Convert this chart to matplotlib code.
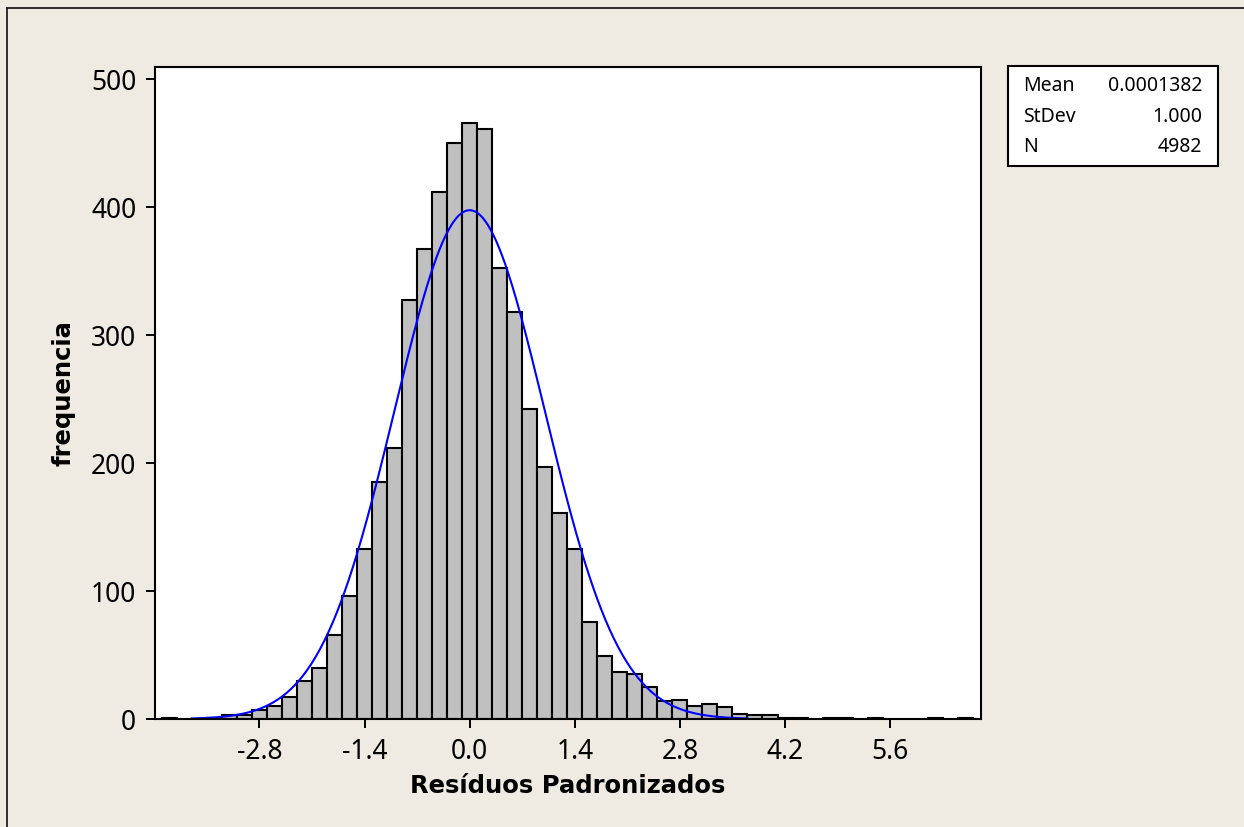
import numpy as np
import matplotlib.pyplot as plt
from matplotlib.patches import Rectangle
from matplotlib.lines import Line2D

plt.rcParams['font.family'] = ['Noto Sans', 'DejaVu Sans']

# histogram of standardized residuals (bin width 0.2, centred on multiples of 0.2)
bin_centers = [-4.0, -3.4, -3.2, -3.0, -2.8, -2.6, -2.4, -2.2, -2.0, -1.8,
               -1.6, -1.4, -1.2, -1.0, -0.8, -0.6, -0.4, -0.2, 0.0, 0.2,
               0.4, 0.6, 0.8, 1.0, 1.2, 1.4, 1.6, 1.8, 2.0, 2.2,
               2.4, 2.6, 2.8, 3.0, 3.2, 3.4, 3.6, 3.8, 4.0, 4.2,
               4.4, 4.8, 5.0, 5.4, 6.2, 6.6]
counts = [1, 1, 3, 3, 7, 10, 17, 30, 40, 66,
          96, 133, 185, 212, 327, 367, 412, 450, 466, 461,
          352, 318, 242, 197, 161, 133, 76, 49, 37, 35,
          25, 14, 15, 10, 12, 9, 4, 3, 3, 1,
          1, 1, 1, 1, 1, 1]
bin_width = 0.2

# summary statistics
mean = 0.0001382
stdev = 1.000
n = 4982

xticks = [-2.8, -1.4, 0.0, 1.4, 2.8, 4.2, 5.6]
yticks = [0, 100, 200, 300, 400, 500]

bg = '#EFEBE2'
W, H = 1244, 827
fig = plt.figure(figsize=(W / 100, H / 100), dpi=100, facecolor=bg)
ax = fig.add_axes([155 / W, 1 - 719 / H, (981 - 155) / W, (719 - 67) / H])
ax.set_facecolor('white')

ax.bar(bin_centers, counts, width=bin_width, color='#C0C0C0',
       edgecolor='black', linewidth=1.5, zorder=2)

# fitted normal curve scaled to counts
xs = np.linspace(-3.7, 3.7, 400)
pdf = np.exp(-0.5 * ((xs - mean) / stdev) ** 2) / (stdev * np.sqrt(2 * np.pi))
ax.plot(xs, n * bin_width * pdf, color='#0000FF', linewidth=1.5, zorder=3)

ax.set_xlim(-4.19, 6.81)
ax.set_ylim(0, 509.4)
ax.set_xticks(xticks)
ax.set_xticklabels(['%.1f' % t for t in xticks])
ax.set_yticks(yticks)
for s in ax.spines.values():
    s.set_linewidth(1.5)
    s.set_zorder(4)
ax.tick_params(direction='out', length=6.5, width=1.4, labelsize=19, pad=7,
               top=False, right=False)

lab_font = dict(family='DejaVu Sans', fontsize=17.5, fontweight='bold')
ax.set_xlabel('Resíduos Padronizados', labelpad=6, **lab_font)
ax.set_ylabel('frequencia', labelpad=11, **lab_font)

# statistics box
bx0, bx1, by0, by1 = 1008, 1218, 66, 166
fig.patches.append(Rectangle((bx0 / W, 1 - by1 / H), (bx1 - bx0) / W, (by1 - by0) / H,
                             transform=fig.transFigure, facecolor='white',
                             edgecolor='black', linewidth=1.5))
rows = [('Mean', '%.7f' % mean), ('StDev', '%.3f' % stdev), ('N', '%d' % n)]
for i, (lab, val) in enumerate(rows):
    yy = 1 - (86 + 30.5 * i) / H
    fig.text(1023 / W, yy, lab, fontsize=14, ha='left', va='center')
    fig.text(1202 / W, yy, val, fontsize=14, ha='right', va='center')

# frame lines along top and left edge
fig.lines.append(Line2D([7 / W, 1], [1 - 8 / H, 1 - 8 / H], transform=fig.transFigure,
                        color='#202020', linewidth=1.3))
fig.lines.append(Line2D([7 / W, 7 / W], [0, 1 - 8 / H], transform=fig.transFigure,
                        color='#202020', linewidth=1.3))

fig.savefig('out.png', dpi=100, facecolor=bg)
